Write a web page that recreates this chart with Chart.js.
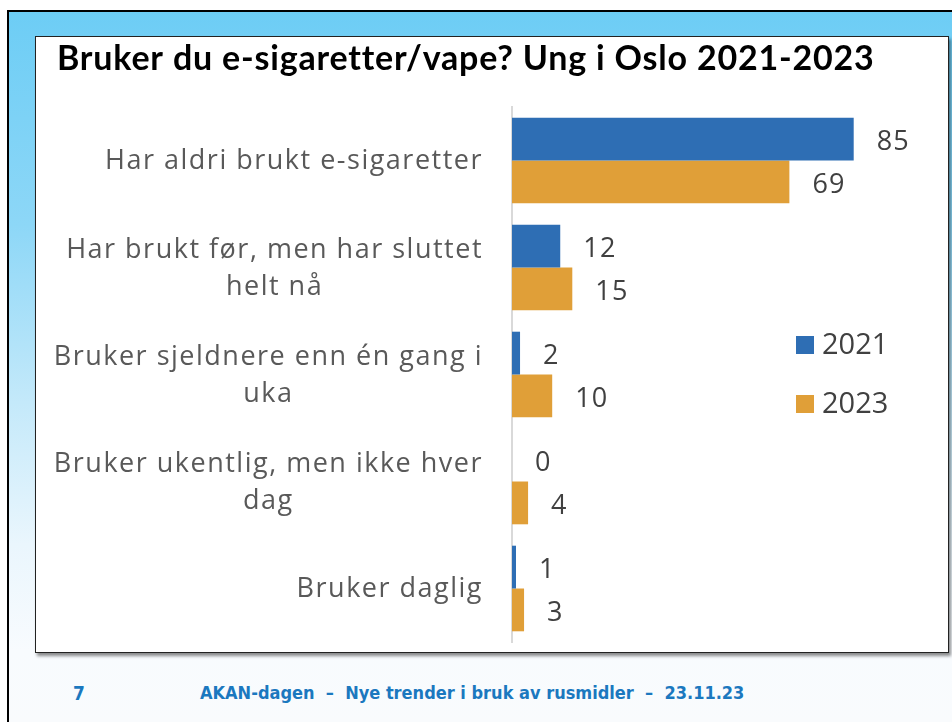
<!DOCTYPE html>
<html>
<head>
<meta charset="utf-8">
<script src="https://cdn.jsdelivr.net/npm/chart.js@4"></script>
<style>
  html, body { margin: 0; padding: 0; width: 952px; height: 722px; overflow: hidden; background: #fff; }
  .slide { position: absolute; left: 7px; top: 10px; right: 0; bottom: 0;
    border-left: 2px solid #000; border-top: 2px solid #000;
    background: linear-gradient(to bottom, #6dcdf5 0%, #8dd7f7 30%, #c4e9fa 55%, #eaf6fd 75%, #f8fbfe 90%, #f9fbfd 100%); }
  .box { position: absolute; left: 35px; top: 36px; width: 912px; height: 615px;
    background: #fff; border: 1px solid #222; box-shadow: 2px 3px 3px rgba(0,0,0,0.45); }
  .chart-wrap { position: absolute; left: 36px; top: 37px; width: 912px; height: 615px; }
  .footer { position: absolute; top: 684px; line-height: 18px; color: #1b78bf; font-family: "DejaVu Sans Condensed", "DejaVu Sans", sans-serif; font-weight: bold; font-size: 18px; white-space: pre; }
</style>
</head>
<body>
<div class="slide"></div>
<div class="box"></div>
<div class="chart-wrap"><canvas id="chart"></canvas></div>
<div class="footer" style="left:73px; font-size:19px;">7</div>
<div class="footer" style="left:200px;">AKAN-dagen  –  Nye trender i bruk av rusmidler  –  23.11.23</div>
<script>
// data
const chartTitle = "Bruker du e-sigaretter/vape? Ung i Oslo 2021-2023"
const categories = [
  ["Har aldri brukt e-sigaretter"],
  ["Har brukt før, men har sluttet", "helt nå"],
  ["Bruker sjeldnere enn én gang i", "uka"],
  ["Bruker ukentlig, men ikke hver", "dag"],
  ["Bruker daglig"]
]
const seriesNames = ["2021", "2023"]
const values2021 = [85, 12, 2, 0, 1]
const values2023 = [69, 15, 10, 4, 3]
const seriesColors = ["#2e6eb4", "#e09f38"]

const titleFont = "Lato"
const textFont = "'Open Sans'"

// wider spacing for the title (drawn by chart.js before the bars)
let titleSpacing = {
  id: "titleSpacing",
  beforeDraw(chart) { chart.ctx.letterSpacing = "0.8px" },
  beforeDatasetsDraw(chart) { chart.ctx.letterSpacing = "0px" }
}

// category labels: right aligned block, lines centered in the block
let categoryLabels = {
  id: "categoryLabels",
  afterDraw(chart) {
    let ctx = chart.ctx
    let yScale = chart.scales.y
    ctx.save()
    ctx.font = `27px ${textFont}`
    ctx.letterSpacing = "1.5px"
    ctx.fillStyle = "#595959"
    ctx.textAlign = "center"
    ctx.textBaseline = "middle"
    let right = yScale.right - 29
    let lineH = 37
    chart.data.labels.forEach((lines, i) => {
      let y = yScale.getPixelForTick(i) + 1
      let w = Math.max(...lines.map(l => ctx.measureText(l).width))
      let cx = right - w / 2
      lines.forEach((line, j) => {
        ctx.fillText(line, cx, y + (j - (lines.length - 1) / 2) * lineH)
      })
    })
    ctx.restore()
  }
}

// value labels after each bar
let valueLabels = {
  id: "valueLabels",
  afterDatasetsDraw(chart) {
    let ctx = chart.ctx
    ctx.save()
    ctx.font = `27px ${textFont}`
    ctx.letterSpacing = "1.2px"
    ctx.fillStyle = "#404040"
    ctx.textAlign = "left"
    ctx.textBaseline = "middle"
    chart.data.datasets.forEach((ds, i) => {
      chart.getDatasetMeta(i).data.forEach((bar, j) => {
        ctx.fillText(String(ds.data[j]), bar.x + 23, bar.y + 3)
      })
    })
    ctx.restore()
  }
}

// legend inside the plot, right side
let sideLegend = {
  id: "sideLegend",
  afterDraw(chart) {
    let ctx = chart.ctx
    let area = chart.chartArea
    ctx.save()
    ctx.font = `29px ${textFont}`
    ctx.textAlign = "left"
    ctx.textBaseline = "middle"
    chart.data.datasets.forEach((ds, i) => {
      let x = area.left + 284
      let y = area.top + 238 + i * 59
      ctx.fillStyle = ds.backgroundColor
      ctx.fillRect(x, y - 9, 18, 18)
      ctx.fillStyle = "#404040"
      ctx.fillText(ds.label, x + 26, y + 1)
    })
    ctx.restore()
  }
}

let chart = new Chart(document.querySelector("#chart"), {
  type: "bar",
  data: {
    labels: categories,
    datasets: [
      { label: seriesNames[0], data: values2021, backgroundColor: seriesColors[0] },
      { label: seriesNames[1], data: values2023, backgroundColor: seriesColors[1] }
    ]
  },
  options: {
    indexAxis: "y",
    responsive: true,
    maintainAspectRatio: false,
    animation: false,
    devicePixelRatio: 1,
    layout: { padding: { left: 21, right: 34, top: 0, bottom: 10 } },
    datasets: { bar: { categoryPercentage: 0.8, barPercentage: 1.0 } },
    scales: {
      x: { display: false, min: 0, max: 100 },
      y: {
        grid: { display: false },
        border: { display: true, color: "#d9d9d9", width: 2 },
        ticks: { display: false },
        afterFit: (scale) => { scale.width = 455 }
      }
    },
    plugins: {
      legend: { display: false },
      tooltip: { enabled: false },
      title: {
        display: true,
        text: chartTitle,
        align: "start",
        color: "#000",
        font: { family: titleFont, size: 34, weight: "bold", lineHeight: 1.2 },
        padding: { top: 2, bottom: 27.2 }
      }
    }
  },
  plugins: [titleSpacing, categoryLabels, valueLabels, sideLegend]
})
</script>
</body>
</html>
